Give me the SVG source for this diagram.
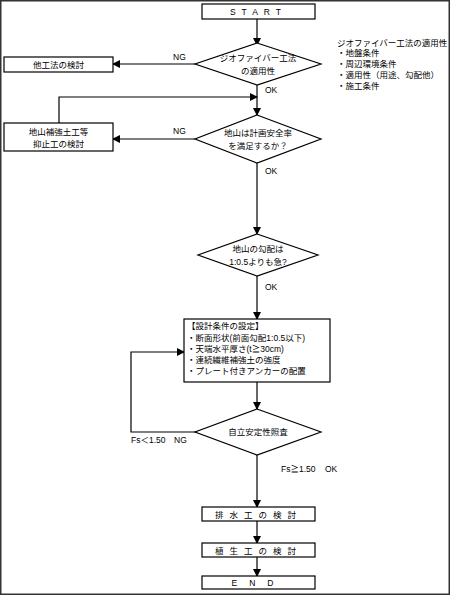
<svg xmlns="http://www.w3.org/2000/svg" width="450" height="595" viewBox="0 0 450 595">
<defs>
<marker id="ah" markerWidth="8" markerHeight="8" refX="7" refY="4" orient="auto" markerUnits="userSpaceOnUse">
<path d="M0,0 L8,4 L0,8 Z" fill="#000"/>
</marker>
<style>
.n{fill:#fff;stroke:#000;stroke-width:1.2}
.c{fill:none;stroke:#000;stroke-width:1.2}
text{font-family:"Liberation Sans","Noto Sans CJK JP",sans-serif;font-size:8.5px;fill:#000}
.m{text-anchor:middle}
</style>
</defs>
<rect x="0.75" y="0.75" width="448.5" height="593.5" fill="#fff" stroke="#333" stroke-width="1.5"/>
<g id="connectors">
<line class="c" x1="257" y1="19" x2="257" y2="45" marker-end="url(#ah)"/>
<line class="c" x1="195" y1="64" x2="113" y2="64" marker-end="url(#ah)"/>
<line class="c" x1="257" y1="85" x2="257" y2="115" marker-end="url(#ah)"/>
<polyline class="c" points="59,123 59,97 257,97" marker-end="url(#ah)"/>
<line class="c" x1="195" y1="139" x2="113" y2="139" marker-end="url(#ah)"/>
<line class="c" x1="257" y1="163" x2="257" y2="234" marker-end="url(#ah)"/>
<line class="c" x1="257" y1="276" x2="257" y2="319" marker-end="url(#ah)"/>
<line class="c" x1="257" y1="382" x2="257" y2="409" marker-end="url(#ah)"/>
<polyline class="c" points="195,432 131,432 131,352 184,352" marker-end="url(#ah)"/>
<line class="c" x1="257" y1="455" x2="257" y2="507" marker-end="url(#ah)"/>
<line class="c" x1="257" y1="521" x2="257" y2="543" marker-end="url(#ah)"/>
<line class="c" x1="257" y1="557" x2="257" y2="576" marker-end="url(#ah)"/>
<text x="173" y="60">NG</text>
<text x="265" y="93">OK</text>
<text x="173" y="134">NG</text>
<text x="265" y="174">OK</text>
<text x="265" y="290">OK</text>
<text x="131" y="443">Fs＜1.50<tspan x="174">NG</tspan></text>
<text x="281" y="472">Fs≧1.50<tspan x="325">OK</tspan></text>
</g>
<g id="start">
<rect class="n" x="202" y="4" width="113" height="15"/>
<text class="m" x="258.5" y="15" letter-spacing="6">START</text>
</g>
<g id="d1">
<polygon class="n" points="257,43 321,64 257,85 195,64"/>
<text class="m" x="258" y="61">ジオファイバー工法</text>
<text class="m" x="258" y="74">の適用性</text>
</g>
<g id="note">
<text x="337" y="46">ジオファイバー工法の適用性</text>
<text x="337" y="56">・地盤条件</text>
<text x="337" y="67">・周辺環境条件</text>
<text x="337" y="78">・適用性（用途、勾配他）</text>
<text x="337" y="89">・施工条件</text>
</g>
<g id="other">
<rect class="n" x="4" y="57" width="109" height="15"/>
<text class="m" x="58.5" y="68">他工法の検討</text>
</g>
<g id="d2">
<polygon class="n" points="257,115 321,139 257,163 195,139"/>
<text class="m" x="258" y="136">地山は計画安全率</text>
<text class="m" x="258" y="149">を満足するか？</text>
</g>
<g id="reinforce">
<rect class="n" x="4" y="123" width="109" height="28"/>
<text class="m" x="58.5" y="135">地山補強土工等</text>
<text class="m" x="58.5" y="147">抑止工の検討</text>
</g>
<g id="d3">
<polygon class="n" points="257,234 318,255 257,276 198,255"/>
<text class="m" x="258" y="252">地山の勾配は</text>
<text class="m" x="258" y="265">1:0.5よりも急?</text>
</g>
<g id="design">
<rect class="n" x="184" y="319" width="146" height="63"/>
<text x="187" y="329">【設計条件の設定】</text>
<text x="187" y="341">・断面形状(前面勾配1:0.5以下)</text>
<text x="187" y="352">・天端水平厚さ(t≧30cm)</text>
<text x="187" y="363">・連続繊維補強土の強度</text>
<text x="187" y="374">・プレート付きアンカーの配置</text>
</g>
<g id="d4">
<polygon class="n" points="257,409 321,432 257,455 195,432"/>
<text class="m" x="258" y="435">自立安定性照査</text>
</g>
<g id="drain">
<rect class="n" x="202" y="507" width="113" height="14"/>
<text class="m" x="258.5" y="517.5" letter-spacing="6">排水工の検討</text>
</g>
<g id="plant">
<rect class="n" x="202" y="543" width="113" height="14"/>
<text class="m" x="258.5" y="553.5" letter-spacing="6">植生工の検討</text>
</g>
<g id="end">
<rect class="n" x="202" y="576" width="113" height="13"/>
<text class="m" x="258.5" y="585.5" letter-spacing="12">END</text>
</g>
</svg>
